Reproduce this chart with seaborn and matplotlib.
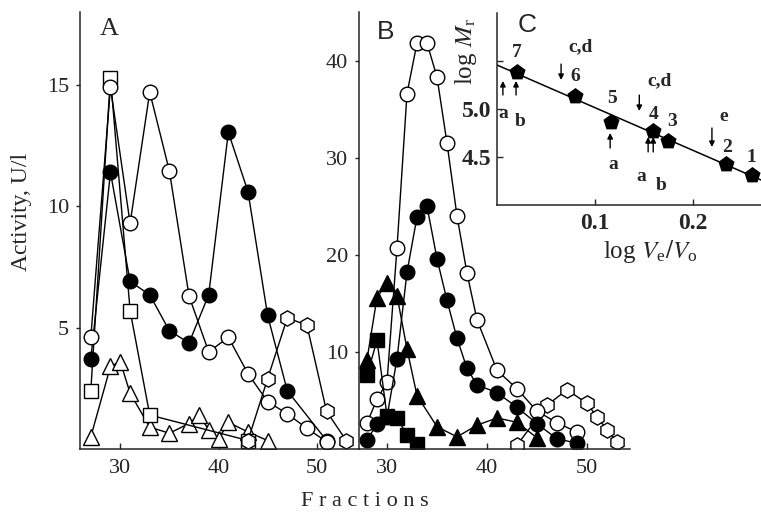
import matplotlib
matplotlib.use("Agg")
import matplotlib.pyplot as plt
import seaborn as sns
import numpy as np

sns.set_style("ticks")
plt.rcParams["font.family"] = ["Liberation Serif", "DejaVu Serif"]
plt.rcParams["mathtext.fontset"] = "stix"
plt.rcParams["axes.linewidth"] = 1.1

# ---------------- data: panel A ----------------
A_sq_x = [27, 29, 31, 33, 43]
A_sq_y = [2.4, 15.3, 5.7, 1.4, 0.35]
A_oc_x = [27, 29, 31, 33, 35, 37, 39, 41, 43, 45, 47, 49, 51]
A_oc_y = [4.6, 14.9, 9.3, 14.7, 11.45, 6.3, 4.0, 4.6, 3.1, 1.95, 1.45, 0.85, 0.3]
A_fc_x = [27, 29, 31, 33, 35, 37, 39, 41, 43, 45, 47, 51]
A_fc_y = [3.7, 11.4, 6.9, 6.35, 4.87, 4.37, 6.35, 13.05, 10.6, 5.5, 2.4, 0.35]
A_hex_x = [43, 45, 47, 49, 51, 53]
A_hex_y = [0.35, 2.9, 5.4, 5.1, 1.55, 0.35]
A_tri_x = [27, 29, 30, 31, 33, 35, 37, 38, 39, 40, 41, 43, 45]
A_tri_y = [0.5, 3.4, 3.6, 2.3, 0.9, 0.65, 1.05, 1.4, 0.8, 0.4, 1.1, 0.7, 0.35]

# ---------------- data: panel B ----------------
B_oc_x = [28, 29, 30, 31, 32, 33, 34, 35, 36, 37, 38, 39, 41, 43, 45, 47, 49]
B_oc_y = [2.7, 5.1, 6.9, 20.7, 36.6, 41.8, 41.8, 38.3, 31.5, 24.0, 18.1, 13.3,
          8.1, 6.2, 3.9, 2.7, 1.75]
B_fc_x = [28, 29, 30, 31, 32, 33, 34, 35, 36, 37, 38, 39, 41, 43, 45, 47, 49]
B_fc_y = [0.9, 2.6, 3.3, 9.3, 18.2, 23.9, 25.0, 19.6, 15.3, 11.4, 8.3, 6.6,
          5.8, 4.3, 2.6, 1.05, 0.6]
B_tri_x = [28, 29, 30, 31, 32, 33, 35, 37, 39, 41, 43, 45]
B_tri_y = [9.2, 15.6, 17.1, 15.8, 10.3, 5.5, 2.3, 1.25, 2.45, 3.2, 2.75, 1.15]
B_sq_x = [28, 29, 30, 31, 32, 33]
B_sq_y = [7.6, 11.2, 3.4, 3.2, 1.45, 0.5]
B_hex_x = [43, 46, 48, 50, 51, 52, 53]
B_hex_y = [0.4, 4.5, 6.1, 4.7, 3.3, 2.0, 0.7]

# ---------------- data: panel C (calibration) ----------------
C_x = [0.0204, 0.0796, 0.1163, 0.159, 0.1745, 0.2337, 0.260]
C_y = [5.385, 5.135, 4.865, 4.77, 4.667, 4.427, 4.3125]
C_labels = ["7", "6", "5", "4", "3", "2", "1"]

# sample arrows: (label, x, y_tail, y_head, label_x, label_y)
C_arrows = [
    ("a", 0.006, 5.146, 5.292, 0.006, 4.948),
    ("b", 0.0194, 5.146, 5.292, 0.0235, 4.875),
    ("c,d", 0.0653, 5.468, 5.302, 0.0847, 5.646),
    ("a", 0.1153, 4.594, 4.75, 0.1184, 4.427),
    ("c,d", 0.145, 5.145, 4.979, 0.1653, 5.292),
    ("a", 0.1540, 4.5525, 4.708, 0.147, 4.292),
    ("b", 0.1592, 4.5525, 4.708, 0.1673, 4.198),
    ("e", 0.219, 4.802, 4.604, 0.2306, 4.927),
]

A_xticks = [30, 40, 50]
A_yticks = [5, 10, 15]
B_xticks = [30, 40, 50]
B_yticks = [10, 20, 30, 40]
C_xticks = [0.1, 0.2]
C_yticks = [4.5, 5.0, 5.5]
C_yticklabels = ["4.5", "5.0", ""]

W, H = 761, 512
fig = plt.figure(figsize=(W / 100, H / 100), dpi=100)
axA = fig.add_axes([80 / W, 63 / H, 279 / W, 437 / H])
axB = fig.add_axes([359 / W, 63 / H, 271 / W, 437 / H])
axC = fig.add_axes([497 / W, (H - 205) / H, 264 / W, 192 / H])


def draw(ax, x, y, marker, filled, ms=10.5):
    sns.lineplot(x=x, y=y, ax=ax, color="black", lw=1.0, marker=marker,
                 markersize=ms, markerfacecolor="black" if filled else "white",
                 markeredgecolor="black", markeredgewidth=1.0,
                 estimator=None, sort=False)


draw(axA, A_tri_x, A_tri_y, "^", False, 11)
draw(axA, A_sq_x, A_sq_y, "s", False, 9.5)
draw(axA, A_hex_x, A_hex_y, "h", False, 11)
draw(axA, A_fc_x, A_fc_y, "o", True)
draw(axA, A_oc_x, A_oc_y, "o", False)

draw(axB, B_hex_x, B_hex_y, "h", False, 11)
draw(axB, B_oc_x, B_oc_y, "o", False)
draw(axB, B_fc_x, B_fc_y, "o", True)
draw(axB, B_tri_x, B_tri_y, "^", True, 11)
draw(axB, B_sq_x, B_sq_y, "s", True, 9.5)

for ax, xl, yl, xt, yt in [(axA, (25.9, 54.3), (0, 18), A_xticks, A_yticks),
                           (axB, (27.2, 54.3), (0, 45), B_xticks, B_yticks)]:
    ax.set_xlim(*xl)
    ax.set_ylim(*yl)
    ax.set_xticks(xt)
    ax.set_yticks(yt)
    ax.set_xticklabels([str(v) for v in xt])
    ax.set_yticklabels([str(v) for v in yt])
    ax.tick_params(axis="x", direction="in", length=4, width=1, pad=7, labelsize=16)
    ax.tick_params(axis="y", direction="out", length=3, width=1, pad=5, labelsize=16)
    ax.set_xlabel("")
    ax.set_ylabel("")
    sns.despine(ax=ax)
    ax.patch.set_alpha(0)

axA.text(0.105, 0.96, "A", transform=axA.transAxes, fontsize=19, ha="center", va="center")
axB.text(0.10, 0.954, "B", transform=axB.transAxes, fontsize=19, ha="center", va="center",
         family=["Liberation Sans", "DejaVu Sans"])

# ---------------- panel C ----------------
axC.set_xlim(0, 0.269)
axC.set_ylim(4.0, 6.0)
sns.regplot(x=C_x, y=C_y, ax=axC, ci=None, truncate=False, marker="p",
            color="black",
            scatter_kws={"s": 150, "zorder": 3, "linewidths": 0, "alpha": 1},
            line_kws={"lw": 1.1})
axC.set_xlim(0, 0.269)
axC.set_ylim(4.0, 6.0)
sns.despine(ax=axC)
axC.set_xticks(C_xticks)
axC.set_xticklabels([f"{v:.1f}" for v in C_xticks])
axC.set_yticks(C_yticks)
axC.set_yticklabels(C_yticklabels)
axC.tick_params(axis="both", direction="in", length=4, width=1, labelsize=17)
axC.tick_params(axis="x", pad=6)
axC.tick_params(axis="y", pad=4)
for lab in axC.get_xticklabels() + axC.get_yticklabels():
    lab.set_fontweight("bold")
axC.set_ylabel(r"log $\mathit{M}_\mathregular{r}$", fontsize=18)
axC.yaxis.set_label_coords(-0.07, 0.80)
axC.set_xlabel(r"log $\mathit{V}_\mathregular{e}/\mathit{V}_\mathregular{o}$", fontsize=18)
axC.xaxis.set_label_coords(0.58, -0.17)
axC.text(0.114, 0.9375, "C", transform=axC.transAxes, fontsize=19, ha="center",
         va="center", family=["Liberation Sans", "DejaVu Sans"])

num_offsets = [(0, 20), (0, 20), (1, 23), (1, 17), (4, 19), (1, 17), (-1, 18)]
for lab, x, y, off in zip(C_labels, C_x, C_y, num_offsets):
    axC.annotate(lab, xy=(x, y), xytext=off, textcoords="offset pixels",
                 ha="center", va="center", fontsize=14, fontweight="bold")

for lab, x, yt, yh, lx, ly in C_arrows:
    axC.annotate("", xy=(x, yh), xytext=(x, yt),
                 arrowprops=dict(arrowstyle="-|>", color="black", lw=1.0,
                                 mutation_scale=8, shrinkA=0, shrinkB=0))
    axC.text(lx, ly, lab, ha="center", va="center", fontsize=14, fontweight="bold")

fig.text(22 / W, 1 - 212 / H, "Activity, U/l", rotation=90, fontsize=17,
         ha="center", va="center")
fig.text(365 / W, 1 - 502 / H, "F r a c t i o n s", fontsize=16,
         ha="center", va="center")

fig.savefig("out.png", dpi=100)
